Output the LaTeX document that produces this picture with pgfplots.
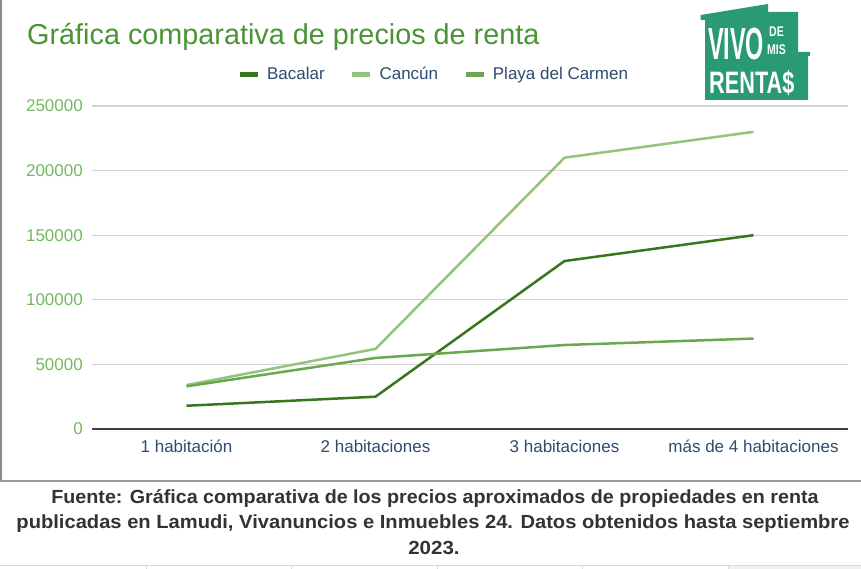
\documentclass[border=0pt]{standalone}
\usepackage{fontspec}
\setmainfont{Liberation Sans}
\newfontfamily\logoA{Liberation Sans}[FakeStretch=0.52]
\newfontfamily\logoB{Liberation Sans}[FakeStretch=0.75]
\newfontfamily\logoC{Liberation Sans}[FakeStretch=0.7]
\usepackage{pgfplots}
\pgfplotsset{compat=1.18}

\definecolor{bacalar}{HTML}{38761D}
\definecolor{cancun}{HTML}{93C47D}
\definecolor{playa}{HTML}{6AA84F}
\definecolor{titlegreen}{HTML}{4A9434}
\definecolor{ytickgreen}{HTML}{74B85F}
\definecolor{slate}{HTML}{2F4B6E}
\definecolor{logo}{HTML}{2A9A73}
\definecolor{captext}{HTML}{333333}

\newcommand{\tickfont}{\fontsize{17}{20}\selectfont}

\begin{document}
\begin{tikzpicture}[x=1pt,y=-1pt]
\path[use as bounding box] (0,0) rectangle (861,569);
\fill[white] (0,0) rectangle (861,569);

% chart frame
\draw[black!45, line width=1.5pt] (1,0) -- (1,481);
\draw[black!40, line width=1.2pt] (0,481) -- (861,481);

% title
\node[anchor=base west, inner sep=0pt, text=titlegreen,
      font=\fontsize{28.8}{32}\selectfont] at (27,45)
  {Gráfica comparativa de precios de renta};

% logo
\fill[logo] (700.7,15) -- (768,4) -- (768,12) -- (798,12) -- (798,52)
  -- (810,52) -- (810,56) -- (808,56) -- (808,100) -- (705,100)
  -- (705,20) -- (700.7,20) -- cycle;
\node[anchor=base west, inner sep=0pt, text=white,
      font=\logoA\bfseries\fontsize{45}{45}\selectfont] at (708,60) {VIVO};
\node[anchor=base west, inner sep=0pt, text=white,
      font=\logoB\bfseries\fontsize{14}{14}\selectfont] at (769,37) {DE};
\node[anchor=base west, inner sep=0pt, text=white,
      font=\logoB\bfseries\fontsize{14}{14}\selectfont] at (767,55) {MIS};
\node[anchor=base west, inner sep=0pt, text=white,
      font=\logoC\bfseries\fontsize{31}{31}\selectfont] at (709,94) {RENTA\$};

\begin{axis}[
  at={(92pt,-429pt)}, anchor=south west,
  scale only axis, width=756pt, height=323pt,
  xmin=-0.5, xmax=3.5, ymin=0, ymax=250000,
  xtick={0,1,2,3},
  xticklabels={1 habitación, 2 habitaciones, 3 habitaciones, más de 4 habitaciones},
  ytick={0,50000,100000,150000,200000,250000},
  yticklabels={0,50000,100000,150000,200000,250000},
  scaled y ticks=false,
  major tick length=0pt,
  axis line style={draw=none},
  ymajorgrids,
  grid style={draw=black!17, line width=1.2pt},
  extra y ticks={0},
  extra y tick labels={},
  extra y tick style={grid style={draw=black!75, line width=1.6pt}},
  yticklabel style={font=\tickfont, text=ytickgreen, inner sep=0pt, xshift=-9pt},
  xticklabel style={font=\tickfont, text=slate, inner sep=0pt, yshift=-11pt},
  legend style={at={(0.452,1.099)}, anchor=center, draw=none, fill=none,
    font=\tickfont, text=slate, legend columns=-1,
    /tikz/every even column/.append style={column sep=23pt}},
  legend image code/.code={\draw[#1, line width=5pt] (0pt,0pt) -- (18pt,0pt);
    \path (24pt,0pt);},
  clip=false,
]
\addplot[bacalar, line width=2.5pt] coordinates {(0,18000) (1,25000) (2,130000) (3,150000)};
\addplot[cancun, line width=2.5pt] coordinates {(0,34000) (1,62000) (2,210000) (3,230000)};
\addplot[playa, line width=2.5pt] coordinates {(0,33000) (1,55000) (2,65000) (3,70000)};
\legend{Bacalar, Cancún, Playa del Carmen}
\end{axis}

% caption
\begin{scope}[every node/.style={anchor=base, inner sep=0pt, text=captext,
      font=\bfseries\fontsize{19}{22}\selectfont}]
\node at (435,503) {\scalebox{1.037}[1]{Fuente: Gráfica comparativa de los precios aproximados de propiedades en renta}};
\node at (433,528) {\scalebox{1.06}[1]{publicadas en Lamudi, Vivanuncios e Inmuebles 24. Datos obtenidos hasta septiembre}};
\node at (434,554) {\scalebox{1.08}[1]{2023.}};
\end{scope}

% table strip at the bottom
\draw[black!15, line width=1pt] (0,565) -- (861,565);
\fill[black!6] (728,565.5) rectangle (861,569);
\foreach \xx in {146,291,437,582,728}
  \draw[black!15, line width=1pt] (\xx,565) -- (\xx,569);
\end{tikzpicture}
\end{document}
